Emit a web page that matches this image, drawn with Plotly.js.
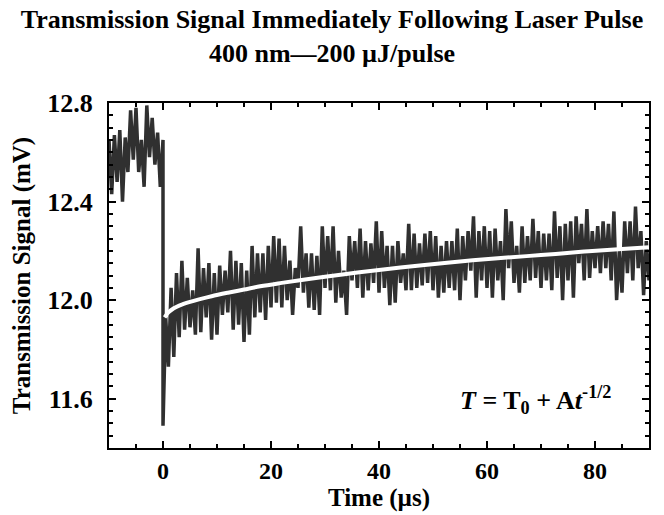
<!DOCTYPE html>
<html>
<head>
<meta charset="utf-8">
<script src="https://cdn.plot.ly/plotly-3.0.1.min.js"></script>
<style>html,body{margin:0;padding:0;background:#fff;}#chart{width:664px;height:515px;}</style>
</head>
<body>
<div id="chart"></div>
<script>
// Sample interval of the recorded trace (µs)
const sampleStep = 0.5;

// Signal before the laser pulse, t = -10 ... 0 µs (mV)
const preSignal = [12.65, 12.43, 12.67, 12.48, 12.69, 12.40, 12.66, 12.52, 12.77, 12.57,
                   12.78, 12.52, 12.65, 12.46, 12.79, 12.58, 12.74, 12.55, 12.68, 12.46, 12.65];

// Signal after the laser pulse, t = 0 ... 90 µs (mV)
const postSignal = [
  11.49, 11.93, 11.73, 12.05, 11.77, 12.11, 11.85, 12.16, 11.88, 12.09, 11.89, 12.04, 11.86, 12.21, 11.87, 12.13, 11.93, 12.15, 11.84, 12.11,
  11.86, 12.14, 11.94, 12.12, 11.95, 12.20, 11.88, 12.16, 11.90, 12.15, 11.83, 12.12, 11.86, 12.22, 11.93, 12.19, 11.95, 12.19, 11.92, 12.22,
  11.97, 12.26, 11.99, 12.25, 11.97, 12.22, 12.00, 12.16, 11.94, 12.13, 12.05, 12.30, 12.03, 12.19, 11.97, 12.19, 11.96, 12.18, 11.94, 12.30,
  12.05, 12.26, 12.04, 12.30, 11.99, 12.20, 12.01, 12.12, 11.94, 12.26, 12.08, 12.24, 12.05, 12.29, 12.01, 12.24, 12.04, 12.23, 12.07, 12.32,
  12.03, 12.28, 12.05, 12.22, 11.98, 12.22, 11.99, 12.24, 12.07, 12.19, 12.04, 12.31, 12.04, 12.27, 12.05, 12.23, 12.06, 12.27, 12.07, 12.28,
  12.04, 12.26, 12.01, 12.22, 12.03, 12.24, 12.05, 12.24, 12.04, 12.29, 12.00, 12.26, 12.08, 12.28, 12.12, 12.34, 12.01, 12.28, 12.08, 12.30,
  12.05, 12.28, 12.01, 12.29, 12.08, 12.24, 12.00, 12.37, 12.13, 12.32, 12.07, 12.22, 12.03, 12.30, 12.07, 12.26, 12.08, 12.33, 12.09, 12.28,
  12.05, 12.27, 12.08, 12.27, 12.04, 12.36, 12.09, 12.30, 12.00, 12.31, 12.08, 12.32, 12.01, 12.34, 12.15, 12.31, 12.08, 12.37, 12.09, 12.28,
  12.13, 12.30, 12.11, 12.32, 12.13, 12.31, 12.08, 12.36, 12.00, 12.20, 12.03, 12.32, 12.11, 12.32, 12.08, 12.38, 12.13, 12.28, 12.02, 12.24,
  12.08
];

// Fitted curve T = T0 + A t^-1/2
const fitTime  = [0.3, 1, 2, 3, 5, 7, 9, 12, 15, 18, 22, 26, 30, 36, 42, 48, 55, 62, 70, 78, 85, 90];
const fitValue = [11.93, 11.95, 11.967, 11.978, 11.993, 12.005, 12.016, 12.03, 12.043, 12.056, 12.07, 12.083,
                  12.095, 12.112, 12.127, 12.142, 12.157, 12.17, 12.183, 12.197, 12.208, 12.215];

// Tick values
const xTicks = [0, 20, 40, 60, 80];
const yTicks = [11.6, 12.0, 12.4, 12.8];

const preTime = preSignal.map((_, i) => -10 + i * sampleStep);
const postTime = postSignal.map((_, i) => i * sampleStep);
const time = preTime.concat(postTime);
const signal = preSignal.concat(postSignal);

const serif = 'Liberation Serif, Times New Roman, serif';

const traces = [
  {x: time, y: signal, type: 'scatter', mode: 'lines',
   line: {color: '#303030', width: 3.5}, hoverinfo: 'skip', showlegend: false},
  {x: fitTime, y: fitValue, type: 'scatter', mode: 'lines',
   line: {color: '#ffffff', width: 4, shape: 'spline'}, hoverinfo: 'skip', showlegend: false}
];

const axisCommon = {
  showline: true, linecolor: '#000', linewidth: 2, mirror: 'allticks',
  ticks: 'inside', ticklen: 7, tickwidth: 2, tickcolor: '#000',
  showgrid: false, zeroline: false
};

const layout = {
  width: 664, height: 515,
  margin: {l: 109, r: 15, t: 103, b: 67},
  paper_bgcolor: '#fff', plot_bgcolor: '#fff',
  title: {
    text: '<b>Transmission Signal Immediately Following Laser Pulse</b><br><b>400 nm—200 µJ/pulse</b>',
    font: {family: serif, size: 26, color: '#000'},
    x: 0.5, xanchor: 'center', xref: 'container',
    yref: 'container', y: 0.945, yanchor: 'top'
  },
  xaxis: Object.assign({}, axisCommon, {
    range: [-10, 90], tickvals: xTicks, ticktext: xTicks.map(String),
    tickfont: {family: serif, size: 24, color: '#000', weight: 'bold'},
    minor: {ticks: 'inside', dtick: 5, tick0: 0, ticklen: 4, tickwidth: 2, tickcolor: '#000'},
    title: {text: '<b>Time (µs)</b>', font: {family: serif, size: 25, color: '#000'}, standoff: 4}
  }),
  yaxis: Object.assign({}, axisCommon, {
    range: [11.4, 12.8], tickvals: yTicks, ticktext: yTicks.map(v => v.toFixed(1)),
    tickfont: {family: serif, size: 26, color: '#000', weight: 'bold'},
    ticklabelstandoff: 9,
    minor: {ticks: 'inside', dtick: 0.05, tick0: 11.4, ticklen: 4, tickwidth: 2, tickcolor: '#000'},
    title: {text: '<b>Transmission Signal (mV)</b>', font: {family: serif, size: 25, color: '#000'}, standoff: 10}
  }),
  annotations: [{
    x: 83.3, y: 11.593, xref: 'x', yref: 'y', xanchor: 'right', yanchor: 'middle',
    showarrow: false,
    text: '<b><i>T</i> = T<sub>0</sub> + A<i>t</i><sup>-1/2</sup></b>',
    font: {family: serif, size: 26, color: '#000'}
  }]
};

Plotly.newPlot('chart', traces, layout, {displayModeBar: false, staticPlot: true});
</script>
</body>
</html>
